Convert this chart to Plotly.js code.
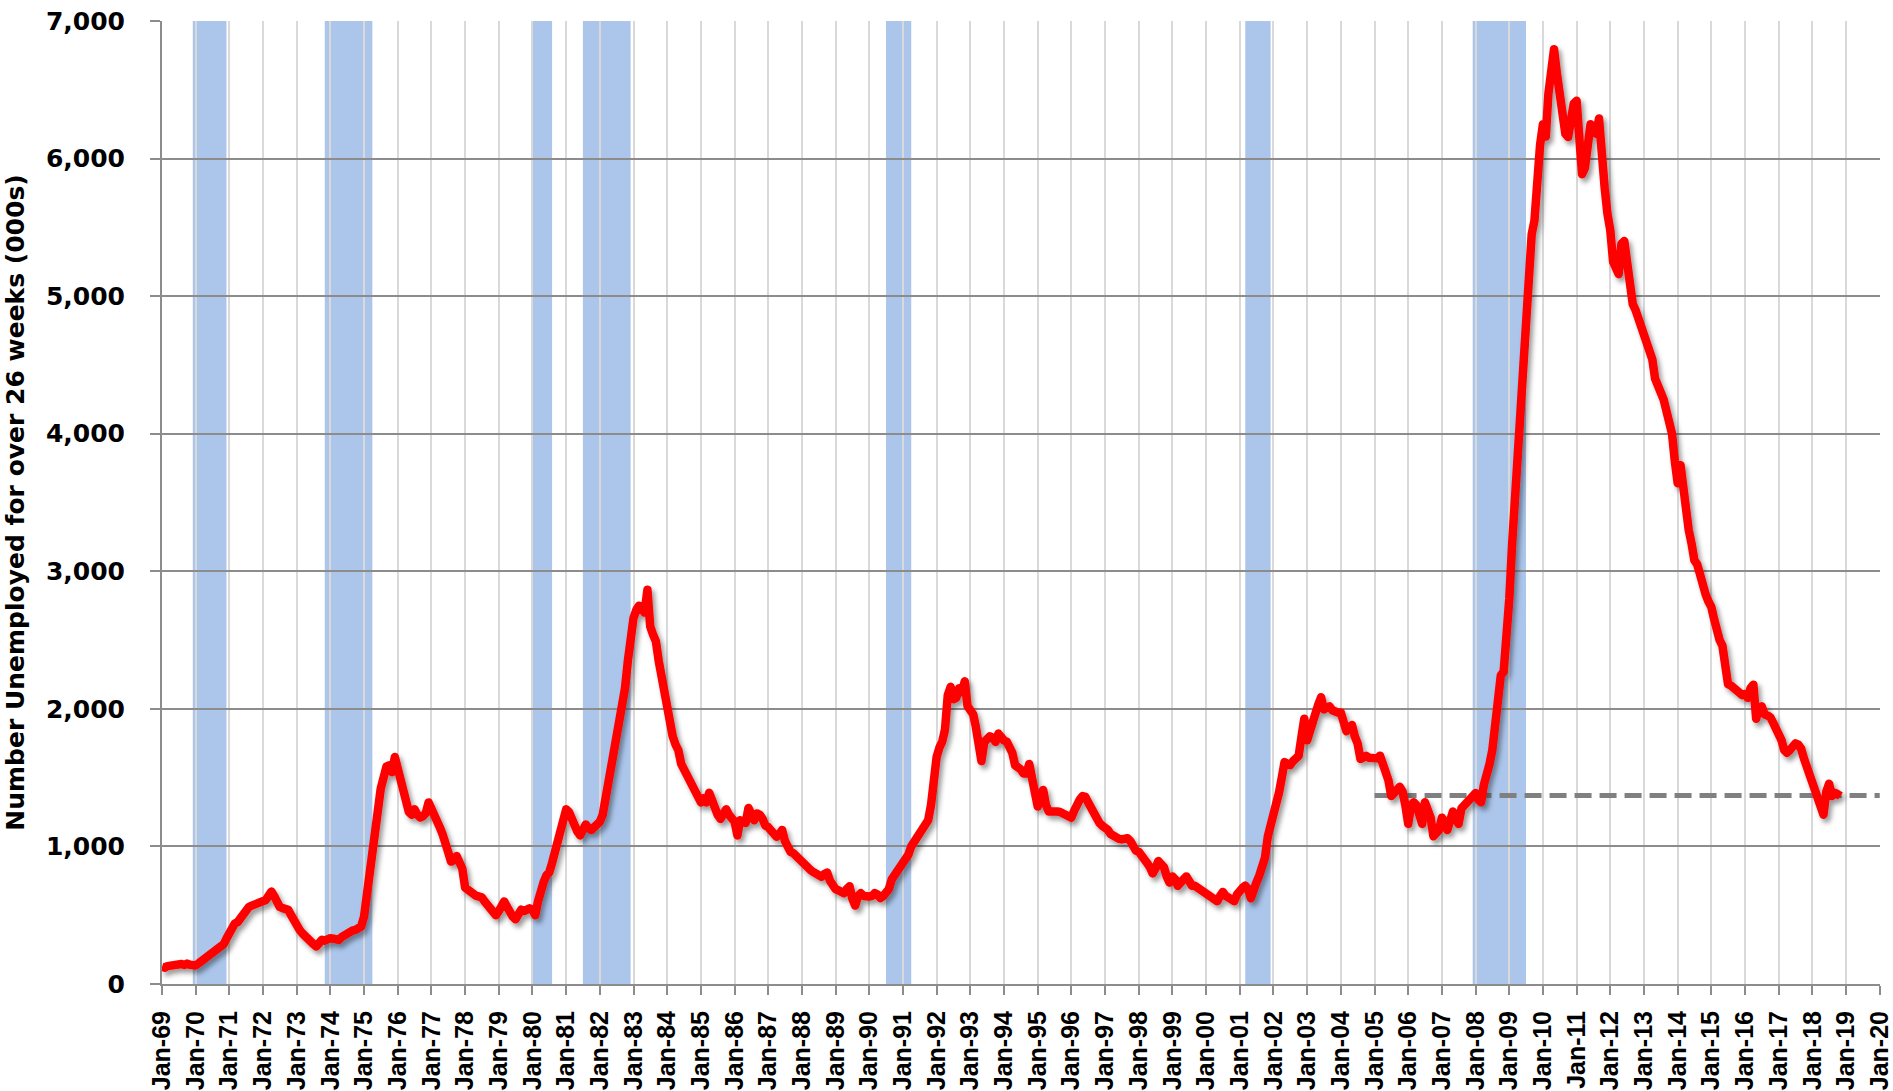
<!DOCTYPE html>
<html>
<head>
<meta charset="utf-8">
<script src="https://cdn.plot.ly/plotly-3.0.1.min.js"></script>
<style>
  html, body { margin: 0; padding: 0; background: #ffffff; }
  #chart { width: 1893px; height: 1091px; }
</style>
</head>
<body>
<div id="chart"></div>
<script>
// ---- DATA ----
const startYear = 1969; // monthly series starts Jan-1969
// Number unemployed for over 26 weeks (000s), monthly, Jan-1969 .. Nov-2018
const longTermUnemployed = [
  125,118,130,135,128,140,150,145,138,148,140,130,          // 1969
  135,150,165,180,200,215,225,240,255,265,290,330,          // 1970
  380,420,440,450,480,515,540,560,570,575,580,590,          // 1971
  595,611,640,672,640,575,560,551,545,539,500,454,          // 1972
  420,393,370,345,325,308,290,272,295,321,315,333,          // 1973
  333,330,325,321,340,357,370,381,390,393,405,418,          // 1974
  490,650,790,1024,1200,1330,1420,1500,1580,1590,1540,1650, // 1975
  1560,1500,1420,1340,1250,1230,1270,1230,1210,1220,1242,1320, // 1976
  1280,1220,1180,1140,1090,1040,960,890,900,930,880,840,    // 1977
  700,680,660,650,640,636,630,600,580,560,540,500,          // 1978
  530,560,600,560,515,490,470,520,540,530,545,550,          // 1979
  540,500,600,690,740,790,810,880,950,1050,1130,1200,       // 1980
  1270,1250,1190,1150,1110,1080,1120,1160,1130,1120,1140,1160, // 1981
  1180,1230,1330,1450,1580,1720,1790,1860,2000,2150,2350,2550, // 1982
  2660,2720,2750,2730,2700,2866,2600,2540,2490,2350,2230,2100, // 1983
  1980,1850,1800,1740,1700,1600,1560,1500,1470,1420,1380,1330, // 1984
  1320,1350,1320,1390,1330,1250,1230,1200,1230,1270,1230,1190, // 1985
  1180,1080,1190,1180,1170,1280,1230,1190,1240,1230,1200,1150, // 1986
  1140,1120,1100,1070,1090,1120,1040,975,960,950,930,900,   // 1987
  870,850,840,830,815,806,790,780,800,810,750,710,          // 1988
  690,680,665,660,690,710,620,570,640,660,640,630,          // 1989
  636,640,660,650,625,640,670,690,760,790,820,840,          // 1990
  870,900,940,1000,1030,1070,1100,1140,1160,1190,1300,1560, // 1991
  1650,1720,1760,1850,2100,2160,2070,2080,2150,2120,2200,2020, // 1992
  2000,1960,1870,1700,1620,1760,1790,1800,1790,1760,1820,1790, // 1993
  1770,1760,1730,1680,1590,1580,1560,1530,1530,1600,1480,1400, // 1994
  1290,1340,1411,1300,1254,1254,1260,1254,1250,1240,1231,1220, // 1995
  1209,1260,1321,1340,1366,1360,1320,1276,1230,1186,1170,1150, // 1996
  1141,1120,1090,1074,1065,1055,1051,1055,1060,1040,984,970,   // 1997
  961,940,900,880,850,804,840,894,870,849,780,737,          // 1998
  782,760,714,730,760,782,740,714,714,700,692,680,          // 1999
  669,640,624,610,602,640,669,640,624,610,602,650,          // 2000
  692,700,714,690,624,700,740,790,849,920,1074,1150,        // 2001
  1209,1300,1389,1500,1613,1600,1591,1620,1640,1658,1800,1928, // 2002
  1771,1850,1883,1973,2030,2085,1996,2010,2018,1990,1973,1973, // 2003
  1973,1900,1838,1860,1883,1800,1749,1636,1650,1658,1645,1640, // 2004
  1636,1640,1660,1600,1540,1480,1366,1400,1411,1433,1400,1298, // 2005
  1164,1300,1321,1300,1250,1164,1321,1276,1209,1074,1100,1119, // 2006
  1209,1180,1119,1200,1254,1200,1164,1276,1300,1321,1340,1366, // 2007
  1388,1340,1321,1450,1568,1600,1700,1860,2050,2243,2270,2500, // 2008
  2800,3200,3500,3900,4300,4500,4900,5050,5450,5550,5900,6100, // 2009
  6250,6160,6471,6650,6795,6620,6450,6250,6180,6156,6300,6400, // 2010
  6420,6111,5886,5932,6111,6250,6200,6180,6291,5960,5790,5600, // 2011
  5480,5250,5200,5160,5380,5400,5250,5050,4942,4900,4830,4762, // 2012
  4690,4650,4560,4540,4400,4330,4300,4250,4140,4100,4000,3800, // 2013
  3640,3772,3600,3450,3300,3200,3080,3050,2960,2900,2830,2780, // 2014
  2740,2650,2558,2500,2460,2300,2180,2170,2150,2130,2110,2100, // 2015
  2108,2080,2150,2176,1928,2010,2018,1960,1951,1940,1900,1860, // 2016
  1800,1771,1700,1681,1700,1720,1749,1740,1710,1640,1580,1500, // 2017
  1433,1380,1343,1300,1231,1400,1456,1366,1390,1380,1366       // 2018
];

// Recessions (shaded bands)
const recessionStart = ['1969-12-01','1973-11-01','1980-01-01','1981-07-01','1990-07-01','2001-03-01','2007-12-01'];
const recessionEnd   = ['1970-12-01','1975-04-01','1980-08-01','1982-12-01','1991-04-01','2001-12-01','2009-07-01'];

// Dashed reference level
const referenceDates = ['2005-01-01','2020-01-01'];
const referenceLevel = [1370, 1370];

const yTickValues = [0,1000,2000,3000,4000,5000,6000,7000];
const xRange = ['1969-01-01','2020-01-04'];

// ---- BUILD ----
const dates = longTermUnemployed.map((v, i) => {
  const y = startYear + Math.floor(i / 12);
  const m = (i % 12) + 1;
  return y + '-' + String(m).padStart(2, '0') + '-01';
});

const traces = [
  {
    x: referenceDates, y: referenceLevel, type: 'scatter', mode: 'lines',
    line: { color: '#808080', width: 5, dash: '17px,8px' },
    hoverinfo: 'skip'
  },
  {
    x: dates, y: longTermUnemployed, type: 'scatter', mode: 'lines',
    line: { color: '#ff0000', width: 8.5, shape: 'linear' },
    hoverinfo: 'skip'
  }
];

const shapes = recessionStart.map((s, i) => ({
  type: 'rect', xref: 'x', yref: 'paper',
  x0: s, x1: recessionEnd[i], y0: 0, y1: 1,
  fillcolor: 'rgba(110,155,220,0.58)', line: { width: 0 }, layer: 'between'
}));

const layout = {
  width: 1893, height: 1091,
  margin: { l: 162, r: 13, t: 21, b: 107, pad: 0 },
  paper_bgcolor: '#ffffff', plot_bgcolor: '#ffffff',
  showlegend: false,
  hovermode: false,
  shapes: shapes,
  xaxis: {
    type: 'date', range: xRange, autorange: false,
    tick0: '1969-01-01', dtick: 'M12', tickformat: '%b-%y',
    tickangle: -90,
    ticks: 'outside', ticklen: 9, tickwidth: 2, tickcolor: '#8c8c8c',
    ticklabelstandoff: 6,
    showline: true, linecolor: '#8c8c8c', linewidth: 2,
    showgrid: true, gridcolor: '#d9d9d9', gridwidth: 2,
    zeroline: false,
    tickfont: { family: 'Liberation Sans, Arial, sans-serif', size: 25, color: '#000000', weight: 'bold' }
  },
  yaxis: {
    range: [0, 7000], autorange: false,
    tickvals: yTickValues, tickformat: ',d',
    ticks: 'outside', ticklen: 10, tickwidth: 2, tickcolor: '#8c8c8c',
    ticklabelstandoff: 20,
    showline: true, linecolor: '#8c8c8c', linewidth: 2,
    showgrid: true, gridcolor: '#8c8c8c', gridwidth: 2,
    zeroline: false,
    tickfont: { family: 'DejaVu Sans, sans-serif', size: 25, color: '#000000', weight: 'bold' },
    title: {
      text: 'Number Unemployed for over 26 weeks (000s)',
      font: { family: 'DejaVu Sans, sans-serif', size: 25, color: '#000000', weight: 'bold' },
      standoff: 14
    }
  }
};

Plotly.newPlot('chart', traces, layout, { staticPlot: true, displayModeBar: false }).then(gd => {
  // Soft drop shadow under the red line (as in the original)
  const svg = gd.querySelector('svg.main-svg');
  const ns = 'http://www.w3.org/2000/svg';
  let defs = svg.querySelector('defs');
  if (!defs) { defs = document.createElementNS(ns, 'defs'); svg.insertBefore(defs, svg.firstChild); }
  const f = document.createElementNS(ns, 'filter');
  f.setAttribute('id', 'lineShadow');
  f.setAttribute('x', '-5%'); f.setAttribute('y', '-5%');
  f.setAttribute('width', '110%'); f.setAttribute('height', '110%');
  const ds = document.createElementNS(ns, 'feDropShadow');
  ds.setAttribute('dx', '3'); ds.setAttribute('dy', '4');
  ds.setAttribute('stdDeviation', '2.5');
  ds.setAttribute('flood-color', '#000000'); ds.setAttribute('flood-opacity', '0.4');
  f.appendChild(ds); defs.appendChild(f);
  const tr = gd.querySelectorAll('.scatterlayer .trace');
  const redPath = tr[tr.length - 1].querySelector('path.js-line');
  if (redPath) {
    redPath.setAttribute('filter', 'url(#lineShadow)');
    redPath.style.strokeLinejoin = 'round';
  }
});
</script>
</body>
</html>
